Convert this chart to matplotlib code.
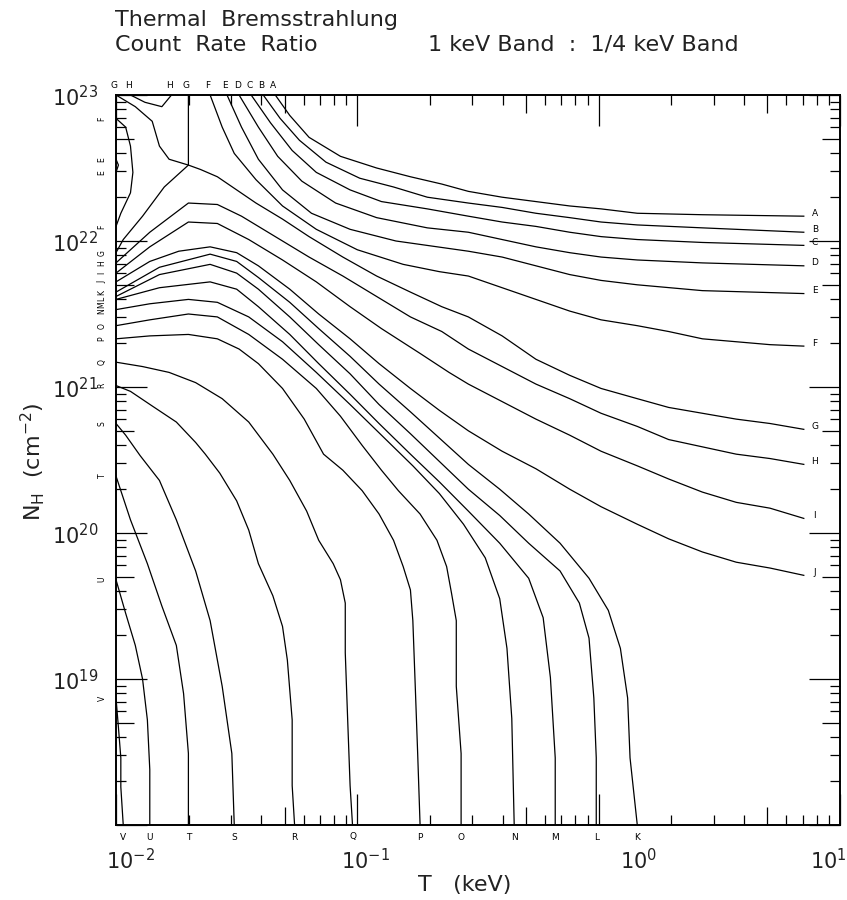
import matplotlib
matplotlib.use("Agg")
import matplotlib.pyplot as plt
import matplotlib.transforms as mtransforms
from matplotlib.ticker import LogLocator, NullFormatter, FixedLocator

# ---------------------------------------------------------------------------
# Contour traces: (log10 T [keV], log10 N_H [cm^-2])
# ---------------------------------------------------------------------------

A = [(-1.34, 23.0), (-1.28, 22.86), (-1.20, 22.71), (-1.07, 22.58), (-0.92, 22.50),
     (-0.78, 22.44), (-0.65, 22.39), (-0.54, 22.34), (-0.40, 22.30), (-0.26, 22.27),
     (-0.12, 22.24), (0.01, 22.22), (0.16, 22.19), (0.43, 22.18), (0.85, 22.17)]
B = [(-1.39, 23.0), (-1.32, 22.84), (-1.24, 22.69), (-1.13, 22.54), (-0.99, 22.43),
     (-0.85, 22.37), (-0.71, 22.30), (-0.54, 22.26), (-0.40, 22.23), (-0.26, 22.19),
     (-0.12, 22.16), (0.01, 22.13), (0.16, 22.11), (0.43, 22.09), (0.85, 22.06)]
C = [(-1.44, 23.0), (-1.36, 22.81), (-1.27, 22.62), (-1.17, 22.47), (-1.03, 22.35),
     (-0.90, 22.27), (-0.71, 22.22), (-0.54, 22.17), (-0.40, 22.13), (-0.26, 22.10),
     (-0.12, 22.06), (0.01, 22.03), (0.16, 22.01), (0.43, 21.99), (0.85, 21.97)]
D = [(-1.49, 23.0), (-1.41, 22.78), (-1.33, 22.58), (-1.23, 22.41), (-1.09, 22.26),
     (-0.92, 22.16), (-0.71, 22.09), (-0.54, 22.06), (-0.40, 22.01), (-0.26, 21.96),
     (-0.12, 21.92), (0.01, 21.89), (0.16, 21.87), (0.43, 21.85), (0.85, 21.83)]
E = [(-1.54, 23.0), (-1.48, 22.78), (-1.41, 22.56), (-1.31, 22.35), (-1.19, 22.19),
     (-1.03, 22.08), (-0.84, 22.00), (-0.54, 21.93), (-0.40, 21.89), (-0.26, 21.83),
     (-0.12, 21.77), (0.01, 21.73), (0.16, 21.70), (0.43, 21.66), (0.85, 21.64)]
E_LOOP = [(-2.0, 22.56), (-1.99, 22.52), (-2.0, 22.47)]
F = [(-1.61, 23.0), (-1.56, 22.78), (-1.51, 22.60), (-1.42, 22.42), (-1.31, 22.24),
     (-1.17, 22.08), (-1.00, 21.94), (-0.81, 21.84), (-0.66, 21.79), (-0.54, 21.76),
     (-0.40, 21.68), (-0.26, 21.60), (-0.12, 21.52), (0.01, 21.46), (0.16, 21.42),
     (0.29, 21.38), (0.43, 21.33), (0.57, 21.31), (0.71, 21.29), (0.85, 21.28)]
F_LOOP = [(-2.0, 22.84), (-1.96, 22.78), (-1.94, 22.65), (-1.93, 22.47), (-1.94, 22.33),
          (-1.98, 22.19), (-2.0, 22.10)]
# G has a saddle near T = 0.02 keV: two branches cross there
G_1 = [(-2.0, 23.0), (-1.92, 22.92), (-1.85, 22.82), (-1.82, 22.65), (-1.78, 22.56),
       (-1.70, 22.52), (-1.65, 22.49), (-1.58, 22.44), (-1.50, 22.35), (-1.42, 22.26),
       (-1.31, 22.15), (-1.20, 22.03), (-1.06, 21.89), (-0.92, 21.76), (-0.78, 21.65),
       (-0.65, 21.55), (-0.54, 21.48), (-0.40, 21.35), (-0.26, 21.19), (-0.12, 21.08),
       (0.01, 20.99), (0.16, 20.92), (0.29, 20.86), (0.43, 20.82), (0.57, 20.78),
       (0.71, 20.75), (0.85, 20.71)]
G_2 = [(-1.70, 23.0), (-1.70, 22.80), (-1.70, 22.62), (-1.70, 22.52), (-1.80, 22.37),
       (-1.89, 22.17), (-1.97, 22.01), (-2.0, 21.92)]
H_LOOP = [(-1.94, 23.0), (-1.88, 22.95), (-1.81, 22.92), (-1.77, 23.0)]
H = [(-2.0, 21.85), (-1.86, 22.06), (-1.70, 22.26), (-1.58, 22.25), (-1.48, 22.17),
     (-1.34, 22.03), (-1.20, 21.89), (-1.06, 21.76), (-0.92, 21.62), (-0.78, 21.48),
     (-0.65, 21.38), (-0.54, 21.26), (-0.40, 21.14), (-0.26, 21.02), (-0.12, 20.92),
     (0.01, 20.82), (0.16, 20.73), (0.29, 20.64), (0.43, 20.59), (0.57, 20.54),
     (0.71, 20.51), (0.85, 20.47)]
I = [(-2.0, 21.78), (-1.86, 21.96), (-1.70, 22.13), (-1.58, 22.12), (-1.45, 22.01),
     (-1.31, 21.87), (-1.17, 21.72), (-1.03, 21.55), (-0.90, 21.40), (-0.74, 21.23),
     (-0.62, 21.10), (-0.54, 21.02), (-0.40, 20.90), (-0.26, 20.78), (-0.12, 20.67),
     (0.01, 20.56), (0.16, 20.46), (0.29, 20.37), (0.43, 20.28), (0.57, 20.21),
     (0.71, 20.17), (0.85, 20.10)]
J = [(-2.0, 21.72), (-1.86, 21.86), (-1.74, 21.93), (-1.61, 21.96), (-1.50, 21.92),
     (-1.41, 21.83), (-1.28, 21.67), (-1.16, 21.50), (-1.03, 21.33), (-0.91, 21.16),
     (-0.78, 20.99), (-0.66, 20.84), (-0.54, 20.70), (-0.40, 20.56), (-0.26, 20.44),
     (-0.12, 20.30), (0.01, 20.18), (0.16, 20.06), (0.29, 19.96), (0.43, 19.87),
     (0.57, 19.80), (0.71, 19.76), (0.85, 19.71)]
K = [(-2.0, 21.65), (-1.82, 21.82), (-1.61, 21.91), (-1.50, 21.86), (-1.41, 21.75),
     (-1.28, 21.58), (-1.16, 21.40), (-1.03, 21.21), (-0.91, 21.02), (-0.78, 20.83),
     (-0.66, 20.65), (-0.54, 20.47), (-0.41, 20.30), (-0.29, 20.13), (-0.16, 19.93),
     (-0.04, 19.69), (0.04, 19.47), (0.09, 19.21), (0.12, 18.87), (0.13, 18.46),
     (0.16, 18.0)]
L = [(-2.0, 21.62), (-1.82, 21.77), (-1.61, 21.84), (-1.50, 21.78), (-1.41, 21.67),
     (-1.28, 21.48), (-1.16, 21.29), (-1.03, 21.09), (-0.91, 20.88), (-0.78, 20.68),
     (-0.66, 20.49), (-0.54, 20.30), (-0.41, 20.12), (-0.29, 19.93), (-0.16, 19.74),
     (-0.08, 19.52), (-0.04, 19.28), (-0.02, 18.87), (-0.01, 18.46), (-0.01, 18.0)]
M = [(-2.0, 21.60), (-1.82, 21.68), (-1.61, 21.72), (-1.50, 21.67), (-1.41, 21.55),
     (-1.28, 21.36), (-1.16, 21.16), (-1.03, 20.95), (-0.91, 20.75), (-0.78, 20.54),
     (-0.66, 20.35), (-0.54, 20.15), (-0.41, 19.93), (-0.29, 19.69), (-0.23, 19.42),
     (-0.20, 19.01), (-0.18, 18.46), (-0.18, 18.0)]
N = [(-2.0, 21.53), (-1.86, 21.57), (-1.70, 21.60), (-1.58, 21.58), (-1.45, 21.48),
     (-1.31, 21.31), (-1.17, 21.10), (-1.03, 20.88), (-0.90, 20.67), (-0.77, 20.46),
     (-0.66, 20.27), (-0.56, 20.06), (-0.47, 19.83), (-0.41, 19.55), (-0.38, 19.21),
     (-0.36, 18.73), (-0.35, 18.0)]
O = [(-2.0, 21.42), (-1.86, 21.46), (-1.70, 21.50), (-1.58, 21.48), (-1.45, 21.36),
     (-1.31, 21.19), (-1.17, 20.99), (-1.07, 20.80), (-0.98, 20.60), (-0.90, 20.43),
     (-0.83, 20.29), (-0.74, 20.13), (-0.67, 19.95), (-0.63, 19.77), (-0.61, 19.59),
     (-0.59, 19.40), (-0.59, 18.95), (-0.57, 18.49), (-0.57, 18.0)]
P = [(-2.0, 21.33), (-1.86, 21.35), (-1.70, 21.36), (-1.58, 21.33), (-1.49, 21.26),
     (-1.41, 21.16), (-1.31, 20.99), (-1.22, 20.78), (-1.14, 20.54), (-1.06, 20.43),
     (-0.98, 20.29), (-0.91, 20.13), (-0.85, 19.95), (-0.81, 19.77), (-0.78, 19.61),
     (-0.77, 19.40), (-0.76, 18.95), (-0.75, 18.49), (-0.74, 18.0)]
Q = [(-2.0, 21.17), (-1.89, 21.14), (-1.78, 21.10), (-1.67, 21.03), (-1.56, 20.92),
     (-1.45, 20.76), (-1.35, 20.54), (-1.28, 20.36), (-1.21, 20.15), (-1.16, 19.95),
     (-1.10, 19.79), (-1.07, 19.68), (-1.05, 19.52), (-1.05, 19.18), (-1.04, 18.72),
     (-1.03, 18.27), (-1.02, 18.0)]
R = [(-2.0, 21.01), (-1.94, 20.97), (-1.85, 20.87), (-1.75, 20.76), (-1.67, 20.62),
     (-1.63, 20.54), (-1.57, 20.41), (-1.50, 20.22), (-1.45, 20.02), (-1.41, 19.79),
     (-1.35, 19.57), (-1.31, 19.36), (-1.29, 19.13), (-1.27, 18.72), (-1.27, 18.27),
     (-1.26, 18.0)]
S = [(-2.0, 20.75), (-1.96, 20.67), (-1.90, 20.53), (-1.82, 20.36), (-1.75, 20.09),
     (-1.67, 19.74), (-1.61, 19.40), (-1.56, 18.95), (-1.52, 18.49), (-1.51, 18.0)]
T = [(-2.0, 20.39), (-1.94, 20.09), (-1.87, 19.79), (-1.81, 19.50), (-1.75, 19.23),
     (-1.72, 18.90), (-1.70, 18.49), (-1.70, 18.0)]
U = [(-2.0, 19.68), (-1.96, 19.45), (-1.92, 19.23), (-1.89, 19.00), (-1.87, 18.72),
     (-1.86, 18.38), (-1.86, 18.0)]
V = [(-2.0, 18.87), (-1.99, 18.67), (-1.98, 18.46), (-1.98, 18.26), (-1.97, 18.0)]

CONTOURS = [("A", A), ("B", B), ("C", C), ("D", D), ("E", E), ("E", E_LOOP),
            ("F", F), ("F", F_LOOP), ("G", G_1), ("G", G_2), ("H", H_LOOP), ("H", H),
            ("I", I), ("J", J), ("K", K), ("L", L), ("M", M), ("N", N), ("O", O),
            ("P", P), ("Q", Q), ("R", R), ("S", S), ("T", T), ("U", U), ("V", V)]

T_MIN, T_MAX = 1e-2, 1e1
NH_MIN, NH_MAX = 1e18, 1e23
T_DECADES = [-2, -1, 0, 1]
NH_DECADES = [19, 20, 21, 22, 23]

fig = plt.figure(figsize=(8.47, 9.0), dpi=100)
rect = [116 / 847, 75 / 900, 724 / 847, 730 / 900]
ax = fig.add_axes(rect)


def log_frame(a):
    a.set_xscale("log")
    a.set_yscale("log")
    a.set_xlim(T_MIN, T_MAX)
    a.set_ylim(NH_MIN, NH_MAX)


log_frame(ax)

for name, pts in CONTOURS:
    xs = [10 ** p[0] for p in pts]
    ys = [10 ** p[1] for p in pts]
    ax.plot(xs, ys, color="black", lw=0.9)


def off(dx, dy):
    return mtransforms.offset_copy(ax.transData, fig=fig, x=dx, y=dy, units="dots")


# line-end letters: top, bottom and right ones sit at the ends directly,
# the crowded left-edge ones are pushed apart a little along the axis
lab_kw = dict(fontsize=6.5, color="black")
left_ends = []
for name, pts in CONTOURS:
    for lt, lnh in (pts[0], pts[-1]):
        x, y = 10 ** lt, 10 ** lnh
        if lnh >= 22.995:
            ax.text(x, y, name, transform=off(-2, 9), ha="center", va="center",
                    clip_on=False, **lab_kw)
        elif lt <= -1.995:
            left_ends.append((ax.transData.transform((x, y))[1], name))
        elif lnh <= 18.005:
            ax.text(x, y, name, transform=off(0, -12), ha="center", va="center",
                    clip_on=False, **lab_kw)
        elif lt >= 0.84:
            ax.text(x, y, name, transform=off(11, 3), ha="center", va="center",
                    clip_on=False, **lab_kw)

left_ends.sort(reverse=True)
placed = []
for ypix, name in left_ends:
    if placed and placed[-1] - ypix < 6.5:
        ypix = placed[-1] - 6.5
    placed.append(ypix)
    fig.text(102 / 847, ypix / 900, name, rotation=90, ha="center", va="center",
             fontsize=5.5, color="black")

# ticks: inward on all four sides; decades long, 2-9 short
ax.xaxis.set_major_locator(LogLocator(base=10, numticks=10))
ax.xaxis.set_minor_locator(LogLocator(base=10, subs=(2, 3, 4, 6, 7, 8, 9), numticks=40))
ax.yaxis.set_major_locator(LogLocator(base=10, numticks=10))
ax.yaxis.set_minor_locator(LogLocator(base=10, subs=(2, 3, 4, 6, 7, 8, 9), numticks=40))
for axis in (ax.xaxis, ax.yaxis):
    axis.set_major_formatter(NullFormatter())
    axis.set_minor_formatter(NullFormatter())
ax.tick_params(which="both", direction="in", top=True, right=True, width=0.9)
ax.tick_params(which="major", length=22)
ax.tick_params(which="minor", length=7)
for sp in ax.spines.values():
    sp.set_linewidth(1.4)

# the 5 x 10^n ticks are drawn a little longer, on an overlaid frameless axes
ax5 = fig.add_axes(rect, frameon=False)
log_frame(ax5)
ax5.patch.set_visible(False)
ax5.xaxis.set_major_locator(FixedLocator([5 * 10.0 ** e for e in (-2, -1, 0)]))
ax5.yaxis.set_major_locator(FixedLocator([5 * 10.0 ** e for e in (18, 19, 20, 21, 22)]))
ax5.xaxis.set_minor_locator(FixedLocator([]))
ax5.yaxis.set_minor_locator(FixedLocator([]))
ax5.tick_params(which="major", direction="in", top=True, right=True, length=13,
                width=0.9, labelbottom=False, labelleft=False)

# decade labels, offset as in the original plotter output
num_kw = dict(fontsize=15, color="#222222")
xlab_dx = {-2: 14, -1: 8, 0: 40, 1: -12}
for e in T_DECADES:
    ax.text(10.0 ** e, NH_MIN, r"$10^{%d}$" % e, transform=off(xlab_dx[e], -36),
            ha="center", va="center", clip_on=False, **num_kw)
for e in NH_DECADES:
    ax.text(T_MIN, 10.0 ** e, r"$10^{%d}$" % e, transform=off(-18, -3),
            ha="right", va="center", clip_on=False, **num_kw)

fig.text(465 / 847, 1 - 885 / 900, "T   (keV)", fontsize=16, ha="center", va="center",
         color="#222222")
fig.text(33 / 847, 1 - 462 / 900, r"N$_{\rm H}$  (cm$^{-2}$)", fontsize=16,
         rotation=90, ha="center", va="center", color="#222222")

fig.text(115 / 847, 1 - 20 / 900, "Thermal  Bremsstrahlung", fontsize=16,
         ha="left", va="center", color="#222222")
fig.text(115 / 847, 1 - 45 / 900, "Count  Rate  Ratio", fontsize=16,
         ha="left", va="center", color="#222222")
fig.text(428 / 847, 1 - 45 / 900, "1 keV Band  :  1/4 keV Band", fontsize=16,
         ha="left", va="center", color="#222222")

fig.savefig("out.png", dpi=100)
